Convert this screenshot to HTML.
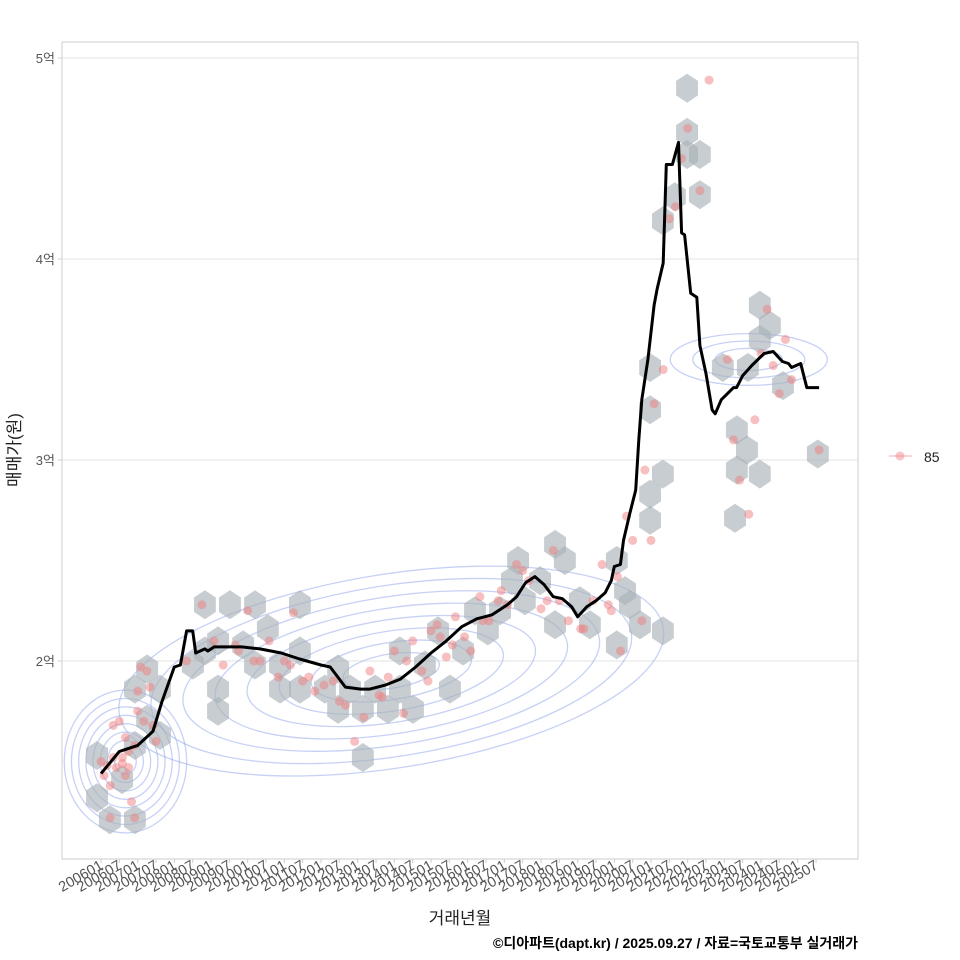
<!DOCTYPE html>
<html><head><meta charset="utf-8">
<style>
body{margin:0;background:#fff;}
svg{display:block;font-family:"Liberation Sans","Noto Sans CJK KR",sans-serif;}
</style></head>
<body>
<svg id="chart" width="960" height="960" viewBox="0 0 960 960">
  <rect x="0" y="0" width="960" height="960" fill="#ffffff"/>
  <rect x="62" y="42" width="796" height="817" fill="#ffffff" stroke="#cccccc" stroke-width="1"/>
  <g id="grid"></g>
  <g id="contours"></g>
  <g id="hexes"></g>
  <g id="points"></g>
  <g id="trend"></g>
  <g id="yaxis"></g>
  <g id="xaxis"></g>
  <text x="20" y="450" transform="rotate(-90 20 450)" text-anchor="middle" font-size="17" fill="#222">매매가(원)</text>
  <text x="460" y="924" text-anchor="middle" font-size="17" fill="#222">거래년월</text>
  <text x="858" y="948" text-anchor="end" font-size="14" font-weight="bold" fill="#000">©디아파트(dapt.kr) / 2025.09.27 / 자료=국토교통부 실거래가</text>
  <g>
    <line x1="889" y1="456" x2="912" y2="456" stroke="#f4a0a0" stroke-width="1.2" opacity="0.7"/>
    <circle cx="900" cy="456" r="4.5" fill="#f08080" opacity="0.45"/>
    <text x="924" y="462" font-size="14" fill="#222">85</text>
  </g>
</svg>
<script>
// month index: 0 = 2006-01
const lineMonth=[0,6,12,17,20,24,26,28,30,31,34,35,37,40,46,52,59,65,72,75,80,85,88,93,98,103,108,113,118,123,128,133,136,139,142,145,148,151,154,156,159,162,165,167,168,170,171,173,175,176,177,179,181,182,184,185,187,189,190,191,193,195,196,198,200,201,203,205,207,208,210,213,217,220,223,225,226,229,231,232,233,235];
const lineValue=[1.44,1.55,1.58,1.65,1.80,1.97,1.98,2.15,2.15,2.04,2.06,2.05,2.07,2.07,2.07,2.06,2.04,2.01,1.98,1.97,1.87,1.86,1.86,1.88,1.91,1.97,2.04,2.10,2.17,2.21,2.23,2.28,2.32,2.39,2.42,2.38,2.32,2.31,2.27,2.22,2.27,2.30,2.34,2.40,2.47,2.48,2.60,2.73,2.85,3.10,3.30,3.50,3.77,3.85,3.98,4.47,4.47,4.58,4.13,4.12,3.83,3.81,3.57,3.43,3.25,3.23,3.30,3.33,3.36,3.36,3.42,3.47,3.53,3.54,3.49,3.48,3.46,3.48,3.36,3.36,3.36,3.36];
const hexMonth=[-1.3,-1.3,2.9,11.1,6.9,11.1,11.1,15.1,19.3,15.1,19.3,34,42.2,50.4,65.1,30.1,34,38.3,38.3,38.3,46.5,50.4,54.6,58.6,58.6,65.1,65.1,73.3,77.6,77.6,81.5,85.7,85.7,89.7,93.9,97.8,97.8,102.1,106,110.3,114.2,118.5,122.4,126.6,130.6,134.5,138.7,136.5,143.7,148.6,151.8,148.6,156.7,160,168.8,171.5,168.8,173.1,176.4,179.7,179.7,183.9,179.7,179.7,183.9,187.8,191.8,191.8,196,183.9,191.8,196,203.5,208.1,208.1,207.5,211.4,215.6,215.6,218.9,223.2,215.6,211.7,234.6];
const hexValue=[1.53,1.32,1.21,1.21,1.41,1.58,1.86,1.96,1.86,1.71,1.63,2.28,2.28,2.28,2.28,1.98,2.05,2.10,1.75,1.86,2.08,1.98,2.16,1.98,1.86,2.05,1.86,1.86,1.96,1.76,1.86,1.76,1.52,1.86,1.76,1.86,2.05,1.76,1.98,2.15,1.86,2.05,2.25,2.15,2.25,2.40,2.30,2.50,2.40,2.58,2.50,2.18,2.30,2.18,2.50,2.35,2.08,2.28,2.18,2.70,2.83,2.93,3.25,3.46,2.15,4.31,4.52,4.63,4.52,4.19,4.85,4.32,3.46,3.15,2.95,2.71,3.05,3.60,3.77,3.67,3.37,2.93,3.46,3.03];
const pointMonth=[0,1,2,3,4,5,6,7,8,9,10,11,12,13,14,15,16,17,18,3,8,12,4,28,33,37,40,44,48,52,55,58,60,63,66,70,73,76,80,83,86,88,91,94,96,99,102,105,108,110,113,116,119,121,124,127,130,133,136,140,144,148,150,153,157,161,164,167,170,172,174,177,178,180,181,184,186,188,190,192,196,199,205,207,209,212,214,216,218,220,222,224,226,235,7,9,11,45,50,62,68,78,92,100,107,111,115,125,131,138,146,158,166,169];
const pointValue=[1.50,1.43,1.48,1.38,1.52,1.47,1.70,1.49,1.62,1.55,1.30,1.22,1.85,1.97,1.70,1.95,1.87,1.68,1.60,1.22,1.43,1.75,1.68,2.00,2.28,2.10,1.98,2.08,2.25,2.00,2.10,1.92,2.00,2.24,1.90,1.85,1.88,1.90,1.78,1.60,1.72,1.95,1.83,1.92,2.05,1.74,2.10,1.95,2.15,2.18,2.02,2.22,2.12,2.05,2.32,2.20,2.30,2.28,2.48,2.40,2.26,2.55,2.30,2.20,2.16,2.30,2.48,2.25,2.05,2.72,2.60,2.20,2.95,2.60,3.28,3.45,4.20,4.26,4.50,4.65,4.34,4.89,3.50,3.10,2.90,2.73,3.20,3.53,3.75,3.47,3.33,3.60,3.40,3.05,1.52,1.47,1.58,2.05,2.00,1.98,1.92,1.80,1.82,2.00,1.90,2.12,2.08,2.20,2.35,2.45,2.30,2.16,2.28,2.42];
// contour levels (relative size) for three density modes
const contourLevels=[0.18,0.3,0.42,0.54,0.66,0.78,0.9,1.02];

const NS='http://www.w3.org/2000/svg';
const xScale=m=>101+m*(715/234);
const yScale=v=>661-(v-2)*201;
function mk(tag,attrs,parent){const e=document.createElementNS(NS,tag);for(const k in attrs)e.setAttribute(k,attrs[k]);parent.appendChild(e);return e;}

const grid=document.getElementById('grid'),yax=document.getElementById('yaxis'),xax=document.getElementById('xaxis');
const yTicks=[2,3,4,5],yTickLabels=['2억','3억','4억','5억'];
yTicks.forEach((v,i)=>{
  const g=mk('line',{x1:62,x2:858,y1:yScale(v),y2:yScale(v),stroke:'#e3e3e3','stroke-width':1},grid);
  
  
  const tk=mk('line',{x1:58,x2:62,y1:yScale(v),y2:yScale(v),stroke:'#ccc'},yax);
  
  
  const t=mk('text',{x:55,y:yScale(v)+5,'text-anchor':'end','font-size':13,fill:'#555'},yax);
  t.textContent=yTickLabels[i];
  
  
});
for(let k=0;k<40;k++){
  const m=k*6,yr=2006+Math.floor(m/12),mo=(m%12)+1;
  const lab=yr+(mo<10?'0':'')+mo;
  const x=xScale(m);
  const tk=mk('line',{x1:x,x2:x,y1:859,y2:863,stroke:'#ccc'},xax);
  
  
  const t=mk('text',{x:x+3,y:868,'text-anchor':'end','font-size':14.5,fill:'#555',transform:`rotate(-30 ${x+3} 868)`},xax);
  t.textContent=lab;
  
  
}

// contours
const cg=document.getElementById('contours');
const modes=[{m:95,v:1.95,rx:270,ry:95,rot:-9},{m:8,v:1.50,rx:60,ry:70,rot:0},{m:212,v:3.5,rx:85,ry:28,rot:0}];
modes.forEach((md,j)=>{
  contourLevels.forEach((lv,i)=>{
    if(j==2&&i>2)return;
    const s=j==2?lv*2.2:lv;
    const e=mk('ellipse',{cx:xScale(md.m),cy:yScale(md.v),rx:md.rx*s,ry:md.ry*s,fill:'none',stroke:'#8fa3ee','stroke-width':1.3,opacity:0.5,transform:`rotate(${md.rot} ${xScale(md.m)} ${yScale(md.v)})`},cg);
    
    
  });
});

// hexes
const hg=document.getElementById('hexes');
hexMonth.forEach((m,i)=>{
  const cx=xScale(m),cy=yScale(hexValue[i]),r=14.5;
  let pts=[];
  for(let a=0;a<6;a++){const ang=Math.PI/6+a*Math.PI/3;pts.push((cx+r*Math.cos(ang)*0.87).toFixed(1)+','+(cy+r*Math.sin(ang)).toFixed(1));}
  const p=mk('polygon',{points:pts.join(' '),fill:'#a9b2b9',opacity:0.65},hg);
  
  
});

// points
const pg=document.getElementById('points');
pointMonth.forEach((m,i)=>{
  const c=mk('circle',{cx:xScale(m),cy:yScale(pointValue[i]),r:4.5,fill:'#f08080',opacity:0.5},pg);
  
  
});

// line
const tg=document.getElementById('trend');
const d=lineMonth.map((m,i)=>(i?'L':'M')+xScale(m).toFixed(1)+','+yScale(lineValue[i]).toFixed(1)).join(' ');
const path=mk('path',{d:d,fill:'none',stroke:'#000','stroke-width':3,'stroke-linejoin':'round'},tg);


</script>
</body></html>
